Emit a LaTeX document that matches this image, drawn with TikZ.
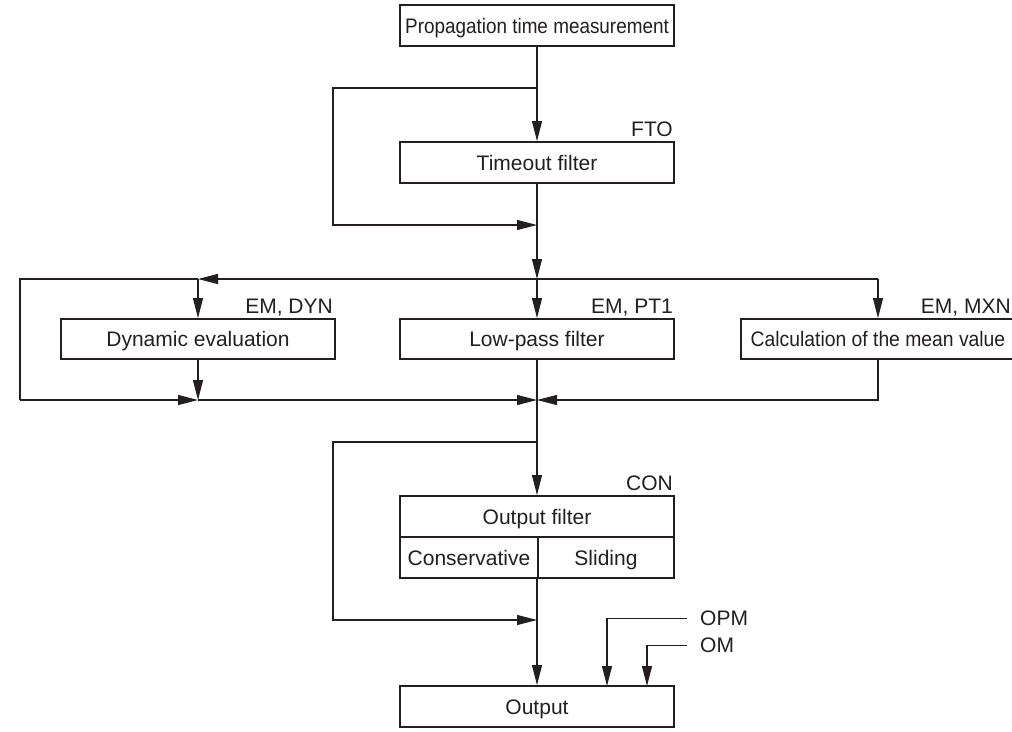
\documentclass[tikz,border=0pt]{standalone}
\usepackage{fontspec}
\setmainfont{Liberation Sans}
\usetikzlibrary{arrows.meta}
\definecolor{ink}{HTML}{231F20}
\begin{document}
\begin{tikzpicture}[x=1pt,y=-1pt,
  box/.style={draw=ink,line width=1.8pt,minimum height=41pt,inner sep=1pt,text height=15.5pt,text depth=0.5pt,text=ink,font=\fontsize{21}{24}\selectfont},
  lab/.style={inner sep=0pt,text=ink,font=\fontsize{21}{24}\selectfont},
  conn/.style={draw=ink,line width=1.1pt},
  tip/.style={-{Triangle[length=20pt,width=10pt]}}]
\useasboundingbox (0,0) rectangle (1012,731);
\clip (0,0) rectangle (1012,731);
% boxes
\node[box,minimum width=274pt] (pm) at (537,25.5) {\scalebox{0.9}[1]{Propagation time measurement}};
\node[box,minimum width=274pt] (to) at (537,162.5) {Timeout filter};
\node[box,minimum width=274pt,minimum height=40pt] (dyn) at (198,339) {Dynamic evaluation};
\node[box,minimum width=274pt,minimum height=40pt] (lp) at (537,339) {Low-pass filter};
\node[box,minimum width=274pt,minimum height=40pt] (calc) at (878,339) {\scalebox{0.92}[1]{Calculation of the mean value}};
\node[box,minimum width=274pt] (oft) at (537,516.5) {Output filter};
\node[box,minimum width=138pt] (ofc) at (469,557.5) {Conservative};
\node[box,minimum width=136pt] (ofs) at (606,557.5) {Sliding};
\node[box,minimum width=274pt] (out) at (537,706.5) {Output};
% labels
\node[lab,anchor=base east] (fto) at (673,136) {FTO};
\node[lab,anchor=base east] (ldyn) at (333,313) {EM, DYN};
\node[lab,anchor=base east] (llp) at (673,313) {EM, PT1};
\node[lab,anchor=base east] (lmxn) at (1011,313) {EM, MXN};
\node[lab,anchor=base east] (lcon) at (673,490) {CON};
\node[lab,anchor=west,inner xsep=13pt] (opm) at (687,618.5) {OPM};
\node[lab,anchor=west,inner xsep=13pt] (om) at (687,645.5) {OM};
% junction coordinates
\coordinate (j1) at (537,88);
\coordinate (l1a) at (333,88);
\coordinate (l1b) at (333,225);
\coordinate (j2) at (537,225);
\coordinate (jt) at (537,279);
\coordinate (jr) at (878,279);
\coordinate (jdl) at (198,279);
\coordinate (ll1) at (20,279);
\coordinate (ll2) at (20,400);
\coordinate (jbl) at (198,400);
\coordinate (jb) at (537,400);
\coordinate (j3) at (537,442);
\coordinate (l3a) at (333,442);
\coordinate (l3b) at (333,620);
\coordinate (j4) at (537,620);
\coordinate (ofb) at (537,578);
\coordinate (oa) at (607,686);
\coordinate (ob) at (647,686);
% connectors
\draw[conn,tip] (pm.south) -- (to.north);
\draw[conn,tip] (j1) -- (l1a) -- (l1b) -- (j2);
\draw[conn,tip] (to.south) -- (jt);
\draw[conn,tip] (jt) -- (lp.north);
\draw[conn] (jt) -- (jr);
\draw[conn,tip] (jr) -- (calc.north);
\draw[conn,tip] (jt) -- (jdl);
\draw[conn] (jdl) -- (ll1) -- (ll2);
\draw[conn,tip] (ll2) -- (jbl);
\draw[conn,tip] (jdl) -- (dyn.north);
\draw[conn,tip] (dyn.south) -- (jbl);
\draw[conn,tip] (jbl) -- (jb);
\draw[conn,tip] (calc.south) |- (jb);
\draw[conn,tip] (lp.south) -- (oft.north);
\draw[conn,tip] (j3) -- (l3a) -- (l3b) -- (j4);
\draw[conn,tip] (ofb) -- (out.north);
\draw[conn,tip] (opm.west) -| (oa);
\draw[conn,tip] (om.west) -| (ob);
\end{tikzpicture}
\end{document}
